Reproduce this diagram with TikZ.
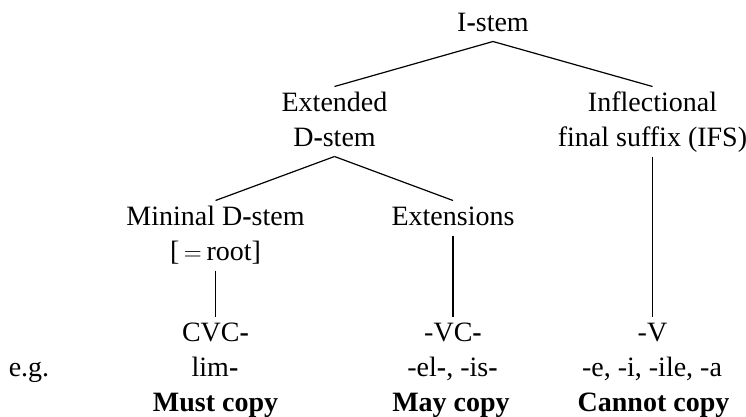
\documentclass[tikz,border=0pt]{standalone}
\usepackage{fontspec}
\setmainfont{Liberation Serif}
% heavier hyphen used inside the morpheme labels
\newcommand{\hy}{\textbf{-}}
\begin{document}
\begin{tikzpicture}[x=1pt,y=-1pt,
  word/.style={anchor=north, inner sep=0pt, outer sep=0pt, align=center,
    font=\fontsize{28}{35}\selectfont},
  branch/.style={line width=1.2pt}]
\useasboundingbox (0,0) rectangle (746,416);

% tree labels (each line carries a strut so baselines sit 35pt apart)
\node[word] (istem) at (493,6.5)   {\strut I\hy stem};
\node[word] (ext)   at (334.5,86.5) {\strut Extended\\\strut D\hy stem};
\node[word] (ifs)   at (652.5,86.5) {\strut Inflectional\\\strut final suffix (IFS)};
\node[word] (mini)  at (215.5,200.5) {\strut Mininal D\hy stem\\\strut [\thinspace$=$\thinspace root]};
\node[word] (exts)  at (453,200.5) {\strut Extensions};

% morpheme shapes
\node[word] (cvc) at (215.5,316.5) {\strut CVC\hy};
\node[word] (vc)  at (453,316.5)   {\strut -VC\hy};
\node[word] (v)   at (652.5,316.5) {\strut -V};

% examples
\node[word] (eg)   at (29,351.5)    {\strut e.g.};
\node[word] (lim)  at (215,351.5)   {\strut lim\hy};
\node[word] (elis) at (452.5,351.5) {\strut -el\hy, -is\hy};
\node[word] (eila) at (652,351.5)   {\strut -e, -i, -ile, -a};

% copying behaviour
\node[word] (must)   at (215.5,386.5) {\strut\textbf{Must copy}};
\node[word] (may)    at (451,386.5)   {\strut\textbf{May copy}};
\node[word] (cannot) at (653.5,386.5) {\strut\textbf{Cannot copy}};

% branches
\draw[branch] (istem.south) -- (ext.north);
\draw[branch] (istem.south) -- (ifs.north);
\draw[branch] (ext.south) -- (mini.north);
\draw[branch] (ext.south) -- (exts.north);
\draw[branch] (mini.south) -- (cvc.north);
\draw[branch] (exts.south) -- (vc.north);
\draw[branch] (ifs.south) -- (v.north);
\end{tikzpicture}
\end{document}
